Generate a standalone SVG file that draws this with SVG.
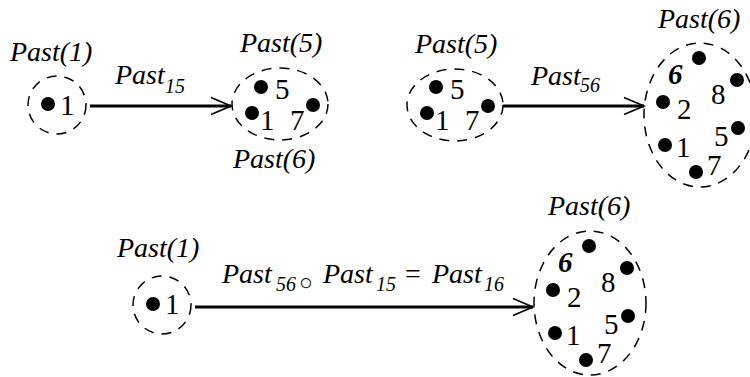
<svg xmlns="http://www.w3.org/2000/svg" width="750" height="377" viewBox="0 0 750 377">
<defs>
<style>
text{font-family:"Liberation Serif","Times New Roman",serif;fill:#000}
.lbl{font-style:italic;font-size:28px}
.sub{font-size:20px}
.num{font-size:29px}
.b6{font-weight:bold;font-style:italic}
.bd{fill:none;stroke:#000;stroke-width:1.5;stroke-dasharray:10 8}
.dot{fill:#000}
.edge{stroke:#000;stroke-width:3;fill:none}
.up{font-style:normal}
</style>
<marker id="ah" markerUnits="userSpaceOnUse" markerWidth="24" markerHeight="20" viewBox="-22 -10 24 20" refX="0" refY="0" orient="auto" overflow="visible">
<path d="M-20,-8.5 L0,0 L-20,8.5" fill="none" stroke="#000" stroke-width="1.7"/>
</marker>
</defs>
<rect width="750" height="377" fill="#fff"/>

<g id="connectors">
<line class="edge" x1="90" y1="106" x2="231" y2="106" marker-end="url(#ah)"/>
<line class="edge" x1="503" y1="106" x2="644" y2="106" marker-end="url(#ah)"/>
<line class="edge" x1="195" y1="307" x2="533" y2="307" marker-end="url(#ah)"/>
<text class="lbl" x="115" y="84">Past<tspan class="sub" x="165" y="93">15</tspan></text>
<text class="lbl" x="531" y="85">Past<tspan class="sub" x="580" y="92">56</tspan></text>
<text class="lbl" x="222" y="283">Past<tspan class="sub" x="276" y="291">56</tspan><tspan class="up" x="299" y="290" style="font-size:23px">○</tspan><tspan x="323" y="283">Past</tspan><tspan class="sub" x="376" y="291">15</tspan><tspan class="up" x="405" y="283">=</tspan><tspan x="432" y="283">Past</tspan><tspan class="sub" x="484" y="291">16</tspan></text>
</g>

<g id="nodeA">
<text class="lbl" x="10" y="61">Past(1)</text>
<circle class="bd" cx="57" cy="105" r="29"/>
<circle class="dot" cx="48" cy="104" r="7"/>
<text class="num" x="60" y="115">1</text>
</g>

<g id="nodeB">
<text class="lbl" x="240" y="52">Past(5)</text>
<text class="lbl" x="233" y="168">Past(6)</text>
<ellipse class="bd" cx="280" cy="104" rx="48" ry="36"/>
<circle class="dot" cx="261" cy="87" r="7"/>
<circle class="dot" cx="252" cy="113" r="7"/>
<circle class="dot" cx="313" cy="105" r="7"/>
<text class="num" x="275" y="99">5</text>
<text class="num" x="260" y="130">1</text>
<text class="num" x="290" y="130">7</text>
</g>

<g id="nodeC">
<text class="lbl" x="415" y="53">Past(5)</text>
<ellipse class="bd" cx="455" cy="105" rx="48" ry="36"/>
<circle class="dot" cx="436" cy="87" r="7"/>
<circle class="dot" cx="427" cy="113" r="7"/>
<circle class="dot" cx="488" cy="106" r="7"/>
<text class="num" x="450" y="99">5</text>
<text class="num" x="435" y="130">1</text>
<text class="num" x="465" y="130">7</text>
</g>

<g id="nodeD">
<text class="lbl" x="658" y="28">Past(6)</text>
<ellipse class="bd" cx="700" cy="115" rx="56" ry="72"/>
<circle class="dot" cx="699" cy="58" r="7"/>
<circle class="dot" cx="737" cy="80" r="7"/>
<circle class="dot" cx="663" cy="102" r="7"/>
<circle class="dot" cx="738" cy="128" r="7"/>
<circle class="dot" cx="665" cy="145" r="7"/>
<circle class="dot" cx="696" cy="172" r="7"/>
<text class="num b6" x="668" y="84">6</text>
<text class="num" x="711" y="104">8</text>
<text class="num" x="677" y="119">2</text>
<text class="num" x="714" y="146">5</text>
<text class="num" x="676" y="157">1</text>
<text class="num" x="707" y="175">7</text>
</g>

<g id="nodeE">
<text class="lbl" x="117" y="257">Past(1)</text>
<circle class="bd" cx="162" cy="305" r="29"/>
<circle class="dot" cx="153" cy="304" r="7"/>
<text class="num" x="165" y="314">1</text>
</g>

<g id="nodeF">
<text class="lbl" x="548" y="215">Past(6)</text>
<ellipse class="bd" cx="590" cy="303" rx="56" ry="72"/>
<circle class="dot" cx="589" cy="246" r="7"/>
<circle class="dot" cx="627" cy="268" r="7"/>
<circle class="dot" cx="553" cy="290" r="7"/>
<circle class="dot" cx="628" cy="316" r="7"/>
<circle class="dot" cx="555" cy="333" r="7"/>
<circle class="dot" cx="586" cy="360" r="7"/>
<text class="num b6" x="558" y="272">6</text>
<text class="num" x="601" y="292">8</text>
<text class="num" x="567" y="307">2</text>
<text class="num" x="604" y="334">5</text>
<text class="num" x="566" y="345">1</text>
<text class="num" x="597" y="363">7</text>
</g>
</svg>
